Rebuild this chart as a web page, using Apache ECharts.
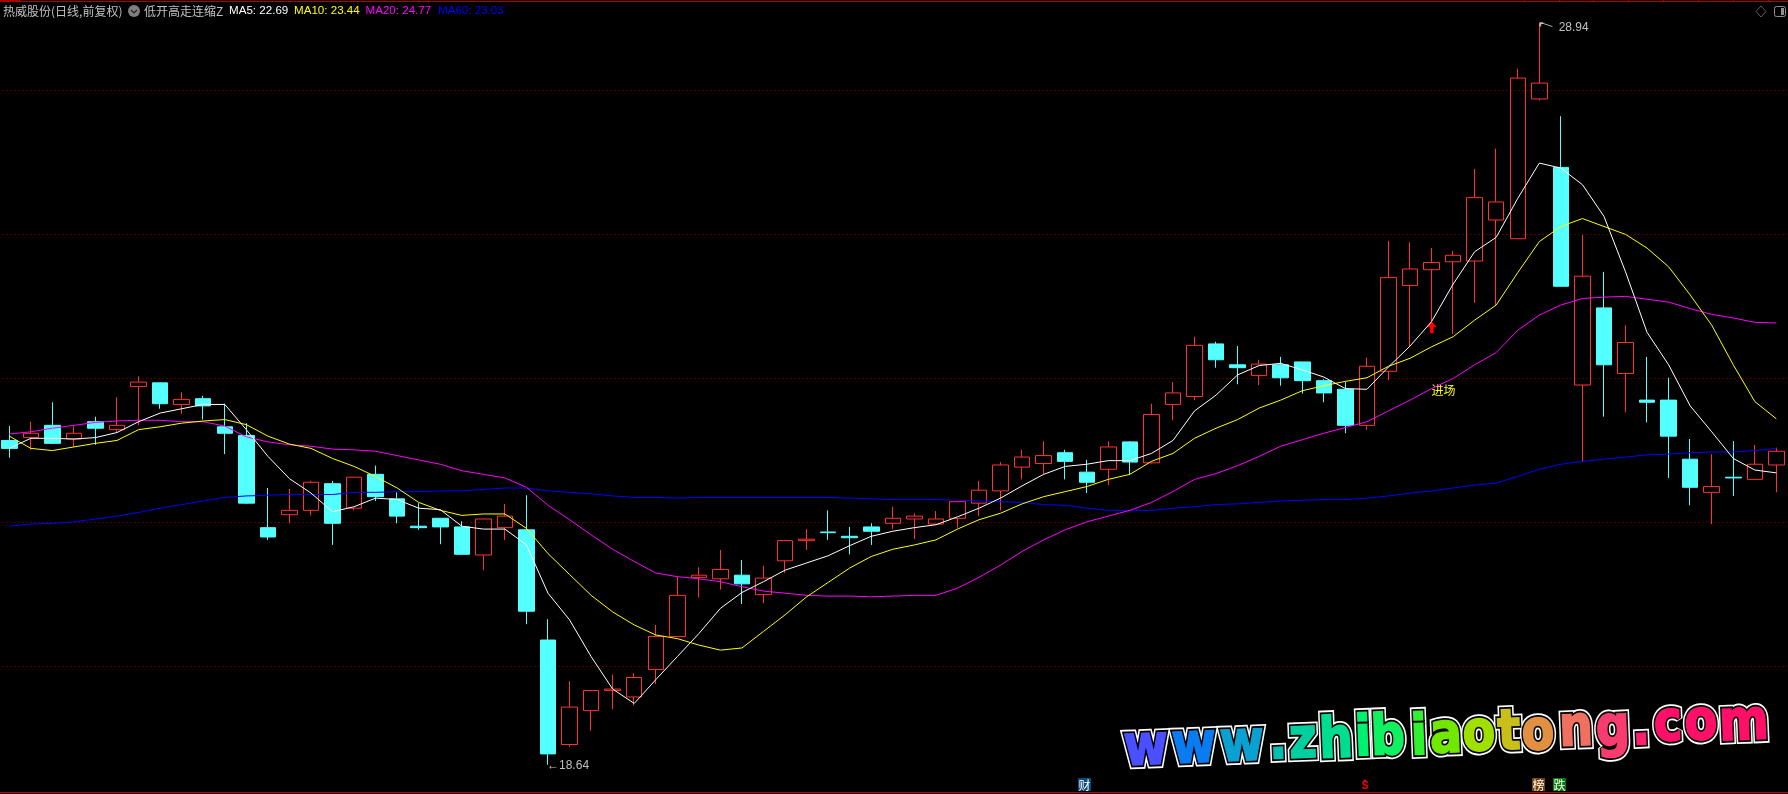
<!DOCTYPE html>
<html>
<head>
<meta charset="utf-8">
<style>html,body{margin:0;padding:0;background:#000}#c{width:1788px;height:794px}</style>
<script src="https://cdn.jsdelivr.net/npm/echarts@6/dist/echarts.min.js"></script>
</head>
<body>
<div id="c"></div>
<script>
const opens=[
23.14,23.18,23.35,23.16,23.40,23.29,23.89,23.94,23.64,23.72,
23.33,23.21,21.93,22.11,22.17,22.54,22.20,22.67,22.33,21.95,
22.06,21.94,21.55,21.93,21.90,20.37,18.92,19.39,19.67,19.58,
19.96,20.42,21.24,21.22,21.27,21.00,21.47,21.75,21.87,21.81,
21.94,21.99,22.05,21.98,22.06,22.27,22.44,22.77,22.82,22.97,
22.70,22.74,23.12,22.83,23.64,23.75,24.48,24.19,24.04,24.19,
24.23,23.97,23.85,23.35,24.10,25.29,25.51,25.62,25.63,26.20,
25.94,27.88,26.93,23.91,24.98,24.07,23.70,23.70,22.88,22.42,
22.63,22.60,22.80];
const closes=[
23.03,23.24,23.10,23.24,23.31,23.35,23.95,23.65,23.71,23.62,
23.24,22.27,21.80,22.17,22.56,21.99,22.63,22.36,22.09,21.93,
21.94,21.56,22.05,22.09,20.77,18.79,19.44,19.67,19.69,19.85,
20.42,20.99,21.27,21.35,21.15,21.23,21.75,21.77,21.86,21.79,
21.88,22.06,22.09,22.05,22.29,22.45,22.80,22.91,22.93,22.85,
22.56,23.05,22.84,23.50,23.80,24.46,24.26,24.15,24.20,24.01,
23.97,23.80,23.35,24.17,25.40,25.52,25.61,25.71,26.51,26.45,
28.17,28.10,25.28,25.42,24.19,24.50,23.67,23.20,22.49,22.50,
22.62,22.81,22.99];
const lows=[
22.90,23.01,23.09,23.05,23.08,23.25,23.35,23.58,23.51,23.43,
22.95,22.26,21.76,21.99,22.10,21.69,22.17,22.30,21.99,21.90,
21.70,21.56,21.34,21.76,20.59,18.64,18.89,19.11,19.41,19.46,
19.76,20.42,20.96,21.07,20.87,20.88,21.30,21.62,21.76,21.56,
21.69,21.91,21.77,21.98,21.93,22.09,22.17,22.60,22.67,22.60,
22.41,22.52,22.66,22.82,23.42,23.70,24.15,23.92,23.91,23.90,
23.79,23.67,23.24,23.29,23.98,24.45,24.77,24.62,25.05,25.02,
25.94,27.86,25.28,22.85,23.47,23.53,23.39,22.62,22.24,21.98,
22.37,22.60,22.42];
const highs=[
23.34,23.40,23.67,23.34,23.47,23.74,24.03,23.94,23.81,23.76,
23.65,23.38,22.48,22.47,22.58,22.58,22.63,22.79,22.42,22.27,
22.06,22.02,22.05,22.26,22.38,20.66,19.80,19.67,19.89,19.91,
20.58,21.25,21.38,21.62,21.48,21.40,21.75,21.91,22.17,21.94,
21.99,22.22,22.13,22.16,22.30,22.58,22.84,23.01,23.13,23.01,
22.87,23.13,23.13,23.65,23.95,24.58,24.51,24.45,24.26,24.30,
24.23,23.99,23.95,24.29,25.91,25.89,25.81,25.77,26.91,27.19,
28.30,28.94,27.64,25.99,25.48,24.74,24.30,24.01,23.16,22.95,
23.13,23.08,23.04];
const ma5=[
23.03,23.17,23.17,23.16,23.18,23.25,23.40,23.52,23.58,23.64,
23.64,23.29,22.92,22.61,22.41,22.15,22.22,22.34,22.32,22.20,
22.18,21.95,21.91,21.91,21.69,21.02,20.65,20.14,19.69,19.49,
19.82,20.14,20.46,20.81,21.03,21.18,21.34,21.44,21.54,21.68,
21.81,21.88,21.93,21.97,22.08,22.20,22.34,22.51,22.67,22.78,
22.81,22.86,22.86,22.96,23.14,23.55,23.77,24.05,24.18,24.21,
24.12,24.02,23.86,23.85,24.16,24.45,24.79,25.31,25.76,25.96,
26.50,26.99,26.92,26.69,26.25,25.48,24.64,24.19,23.62,23.26,
22.89,22.73,22.69];
const ma10=[
23.20,23.03,23.00,23.05,23.10,23.14,23.29,23.33,23.38,23.41,
23.43,23.36,23.20,23.09,23.03,22.89,22.78,22.64,22.48,22.28,
22.17,22.10,22.12,22.12,21.92,21.57,21.28,20.99,20.76,20.58,
20.44,20.39,20.30,20.23,20.26,20.49,20.72,20.97,21.17,21.37,
21.53,21.63,21.69,21.76,21.91,22.04,22.13,22.26,22.36,22.43,
22.50,22.60,22.67,22.85,22.96,23.17,23.31,23.43,23.59,23.70,
23.83,23.90,23.96,24.01,24.17,24.28,24.44,24.58,24.81,25.02,
25.47,25.90,26.11,26.22,26.11,26.00,25.81,25.55,25.16,24.74,
24.19,23.68,23.44];
const ma20=[
23.23,23.26,23.31,23.35,23.39,23.41,23.42,23.42,23.40,23.40,
23.34,23.19,23.12,23.08,23.06,23.02,23.01,22.99,22.93,22.87,
22.81,22.72,22.67,22.62,22.49,22.24,22.04,21.83,21.63,21.46,
21.30,21.25,21.22,21.18,21.11,21.05,21.02,20.99,20.98,20.98,
20.97,20.98,20.99,20.99,21.09,21.24,21.41,21.60,21.76,21.90,
22.01,22.09,22.17,22.28,22.43,22.60,22.68,22.79,22.92,23.06,
23.15,23.24,23.32,23.40,23.55,23.70,23.86,24.00,24.19,24.36,
24.67,24.88,25.02,25.11,25.13,25.14,25.10,25.06,24.97,24.89,
24.84,24.78,24.77];
const ma60=[
21.95,21.98,21.99,22.01,22.05,22.09,22.14,22.20,22.25,22.30,
22.35,22.37,22.38,22.39,22.39,22.39,22.42,22.42,22.43,22.43,
22.44,22.44,22.46,22.48,22.48,22.44,22.42,22.40,22.37,22.35,
22.35,22.34,22.35,22.35,22.35,22.35,22.35,22.35,22.35,22.34,
22.33,22.32,22.32,22.32,22.31,22.30,22.29,22.28,22.25,22.24,
22.20,22.17,22.17,22.17,22.20,22.22,22.25,22.26,22.28,22.30,
22.31,22.32,22.32,22.34,22.37,22.41,22.44,22.48,22.52,22.55,
22.64,22.74,22.81,22.85,22.88,22.91,22.94,22.95,22.97,22.98,
22.98,23.00,23.03];
const categories=opens.map((_,i)=>String(i+1));
const priceTicks=[18,20,22,24,26,28,30];
const titleText='热威股份(日线,前复权)';
const indicatorText='低开高走连缩Z';
const legendLabels=['MA5: 22.69','MA10: 23.44','MA20: 24.77','MA60: 23.03'];
const watermark='www.zhibiaotong.com'.split('');
const watermarkColors=['#4a50ff','#0a7cf0','#0aa0d0','#00bfb0','#00d0a0','#00dd90','#00f070','#10f060','#30f030','#70e800','#a0e000','#c8c018','#e09040','#f07060','#f83c70','#ff2070','#ff1068','#ff1068','#ff1068'];

const RED='#ff3232',CYAN='#54ffff',GREY='#c0c0c0';
const wmX=[1146,1194,1242,1278,1303,1336,1363,1388,1419,1446,1479,1509,1538,1576,1613,1641,1668,1701,1744];
const wmBase=[769,767,765,763,762,762,760,759,759,757,755,754,754,750,750,749,745,744,744];
const legendX=[229,294,365.5,438];
const legendC=['#ffffff','#ffff00','#ff00ff','#0000ff'];
const topTicks=[1524,1559,1593,1628,1663,1698,1733,1768];

const g=[];
g.push({type:'rect',shape:{x:0,y:1,width:1788,height:1},style:{fill:'#b00000'},silent:true});
g.push({type:'rect',shape:{x:0,y:0,width:20,height:1},style:{fill:'#b00000'},silent:true});
g.push({type:'rect',shape:{x:0,y:792,width:1788,height:1},style:{fill:'#c00000'},silent:true});
topTicks.forEach(x=>g.push({type:'rect',shape:{x:x,y:0,width:1,height:1},style:{fill:'#b00000'},silent:true}));
const txt=(s,x,y,fill,font,extra)=>Object.assign({type:'text',x:x,y:y,silent:true,z:50,style:{text:s,x:0,y:0,fill:fill,font:font,textVerticalAlign:'middle',verticalAlign:'middle'}},extra||{});
g.push(txt(titleText,3,11,GREY,'12px "Noto Sans CJK SC"'));
g.push({type:'circle',shape:{cx:134,cy:11,r:6},style:{fill:'#808080'},z:50,silent:true});
g.push({type:'polyline',shape:{points:[[131,10],[134,13],[137,10]]},style:{stroke:'#222',fill:'none',lineWidth:1.2},z:51,silent:true});
g.push(txt(indicatorText,144,11,GREY,'12px "Noto Sans CJK SC"'));
legendLabels.forEach((t,i)=>g.push(txt(t,legendX[i],11,legendC[i],'11.6px "Liberation Sans"')));
g.push({type:'polygon',shape:{points:[[1761,6],[1766,11.5],[1761,17],[1756,11.5]]},style:{fill:'none',stroke:'#606060',lineWidth:1},z:50,silent:true});
g.push({type:'rect',shape:{x:1774.5,y:6.5,width:11,height:10,r:2},style:{fill:'none',stroke:'#909090',lineWidth:1},z:50,silent:true});
g.push({type:'rect',shape:{x:1781,y:8,width:3,height:7},style:{fill:'#909090'},z:50,silent:true});
const tag=(s,x,w,bg,col)=>{
  if(bg)g.push({type:'rect',shape:{x:x,y:778,width:w,height:13},style:{fill:bg},z:50,silent:true});
  g.push({type:'text',x:x+w/2,y:785,z:51,silent:true,style:{text:s,x:0,y:0,fill:col,font:'12px "Noto Sans CJK SC"',textAlign:'center',textVerticalAlign:'middle',verticalAlign:'middle'}});
};
tag('财',1078,13,'#0b4a7c','#ffffff');
tag('榜',1532,13,'#7a4008','#ffffff');
tag('跌',1553,13,'#007a00','#ffffff');
g.push({type:'text',x:1365,y:786.5,z:51,silent:true,style:{text:'S',x:0,y:0,fill:'#ff0000',font:'bold 10px "Liberation Sans"',textAlign:'center',textVerticalAlign:'middle',verticalAlign:'middle'}});
g.push({type:'polygon',shape:{points:[[1365,779],[1367.5,782],[1362.5,782]]},style:{fill:'#ff0000'},z:51,silent:true});
const wmFont='bold 56px "DejaVu Sans"';
watermark.forEach((ch,i)=>{
  const common={type:'text',x:wmX[i],y:wmBase[i]-19.4,scaleX:0.85,rotation:0.04,silent:true};
  const st={text:ch,x:0,y:0,font:wmFont,textAlign:'center',textVerticalAlign:'middle',verticalAlign:'middle',lineJoin:'round'};
  g.push(Object.assign({},common,{z:60,style:Object.assign({},st,{fill:'#fff',stroke:'#fff',lineWidth:9})}));
  g.push(Object.assign({},common,{z:61,style:Object.assign({},st,{fill:'#000',stroke:'#000',lineWidth:5.5})}));
  g.push(Object.assign({},common,{z:62,style:Object.assign({},st,{fill:watermarkColors[i],stroke:watermarkColors[i],lineWidth:2})}));
});

const chart=echarts.init(document.getElementById('c'),null,{renderer:'canvas'});
const lineS=(name,data,color)=>({name:name,type:'line',data:data,symbol:'none',smooth:false,silent:true,z:5,
  lineStyle:{color:color,width:1},itemStyle:{color:color},animation:false});
chart.setOption({
  backgroundColor:'#000',
  animation:false,
  tooltip:{show:false},
  legend:{show:false},
  grid:{left:-1.5,width:1788.65,top:-53.8,height:864.6,containLabel:false,show:false,outerBoundsMode:'none'},
  xAxis:{type:'category',data:categories,boundaryGap:true,axisLine:{show:false},axisTick:{show:false},axisLabel:{show:false},splitLine:{show:false}},
  yAxis:{type:'value',min:priceTicks[0],max:priceTicks[priceTicks.length-1],interval:2,scale:true,
    axisLine:{show:false},axisTick:{show:false},axisLabel:{show:false},
    splitLine:{show:true,lineStyle:{color:'#9a0000',width:1,type:[1,3]}}},
  graphic:g,
  series:[
    {name:'K',type:'candlestick',barWidth:16,silent:true,z:3,clip:false,
      data:opens.map((o,i)=>[o,closes[i],lows[i],highs[i]]),
      itemStyle:{color:'rgba(0,0,0,0)',color0:CYAN,borderColor:RED,borderColor0:CYAN,borderWidth:1},
      markPoint:{silent:true,animation:false,data:[
        {coord:[71,highs[71]],symbol:'path://M0 0L12 4M0 0L0 4M0 0L3 0',symbolSize:[12,4],symbolOffset:[7,2],
          itemStyle:{color:'none',borderColor:GREY,borderWidth:1},
          label:{show:true,formatter:String(highs[71]),position:'right',distance:2,offset:[0,3],color:GREY,fontFamily:'Liberation Sans',fontSize:12}},
        {coord:[25,lows[25]],symbol:'circle',symbolSize:0,
          label:{show:true,formatter:'←'+lows[25],position:'right',distance:0,offset:[-1,1],color:GREY,fontFamily:'Liberation Sans',fontSize:12}},
        {coord:[66,24.71],symbol:'path://M5 0L10 6L7 6L7 12L3.5 12L3.5 6L0 6Z',symbolSize:[10,12],itemStyle:{color:'#ff0000'},label:{show:false}},
        {coord:[66,23.84],symbol:'circle',symbolSize:0,
          label:{show:true,formatter:'进场',position:'right',distance:0,color:'#ffff00',fontFamily:'Noto Sans CJK SC',fontSize:12}}
      ]}
    },
    lineS('MA60',ma60,'#0000ff'),
    lineS('MA20',ma20,'#ff00ff'),
    lineS('MA10',ma10,'#ffff00'),
    lineS('MA5',ma5,'#ffffff')
  ]
});
</script>
</body>
</html>
